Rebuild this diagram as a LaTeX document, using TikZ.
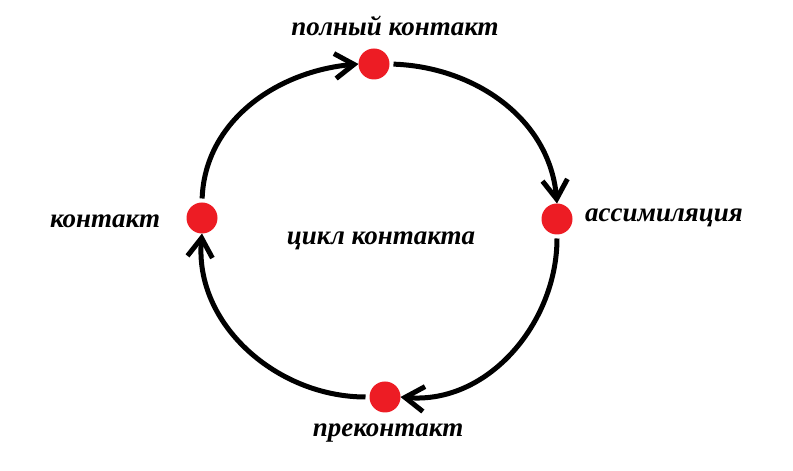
\documentclass[tikz,border=0pt]{standalone}
\usepackage{fontspec}
\setmainfont{Liberation Serif}
\usetikzlibrary{arrows.meta}
\definecolor{dotred}{RGB}{237,28,36}
\begin{document}
\begin{tikzpicture}[x=1pt, y=1pt,
    dot/.style={circle, fill=dotred, minimum width=31pt, minimum height=31pt, inner sep=0pt, outer sep=0pt},
    lbl/.style={font=\fontsize{27}{32}\selectfont\bfseries\itshape, anchor=base, inner sep=0pt},
    flow/.style={line width=5pt, shorten <=4pt, -{Straight Barb[length=19pt, width=25pt, line width=5pt]}}]
    \useasboundingbox (0,0) rectangle (793,471);

    % Stages of the cycle
    \node[dot] (t) at (374,407) {};
    \node[dot] (r) at (557,252) {};
    \node[dot] (b) at (385,74) {};
    \node[dot] (l) at (202,253) {};

    % Arcs between stages
    \draw[flow] (l.north) to[out=88, in=185] (t.west);
    \draw[flow] (t.east) to[out=-2, in=95] (r.north);
    \draw[flow] (r.south) to[out=-90, in=-5] (b.east);
    \draw[flow] (b.west) to[out=180, in=-95] (l.south);

    % Labels
    \node[lbl] (tl) at (395,435) {полный контакт};
    \node[lbl] (rl) at (664,249) {ассимиляция};
    \node[lbl] (ll) at (105,243) {контакт};
    \node[lbl] (bl) at (388,34) {преконтакт};
    \node[lbl] (cl) at (381,226) {цикл контакта};
\end{tikzpicture}
\end{document}
